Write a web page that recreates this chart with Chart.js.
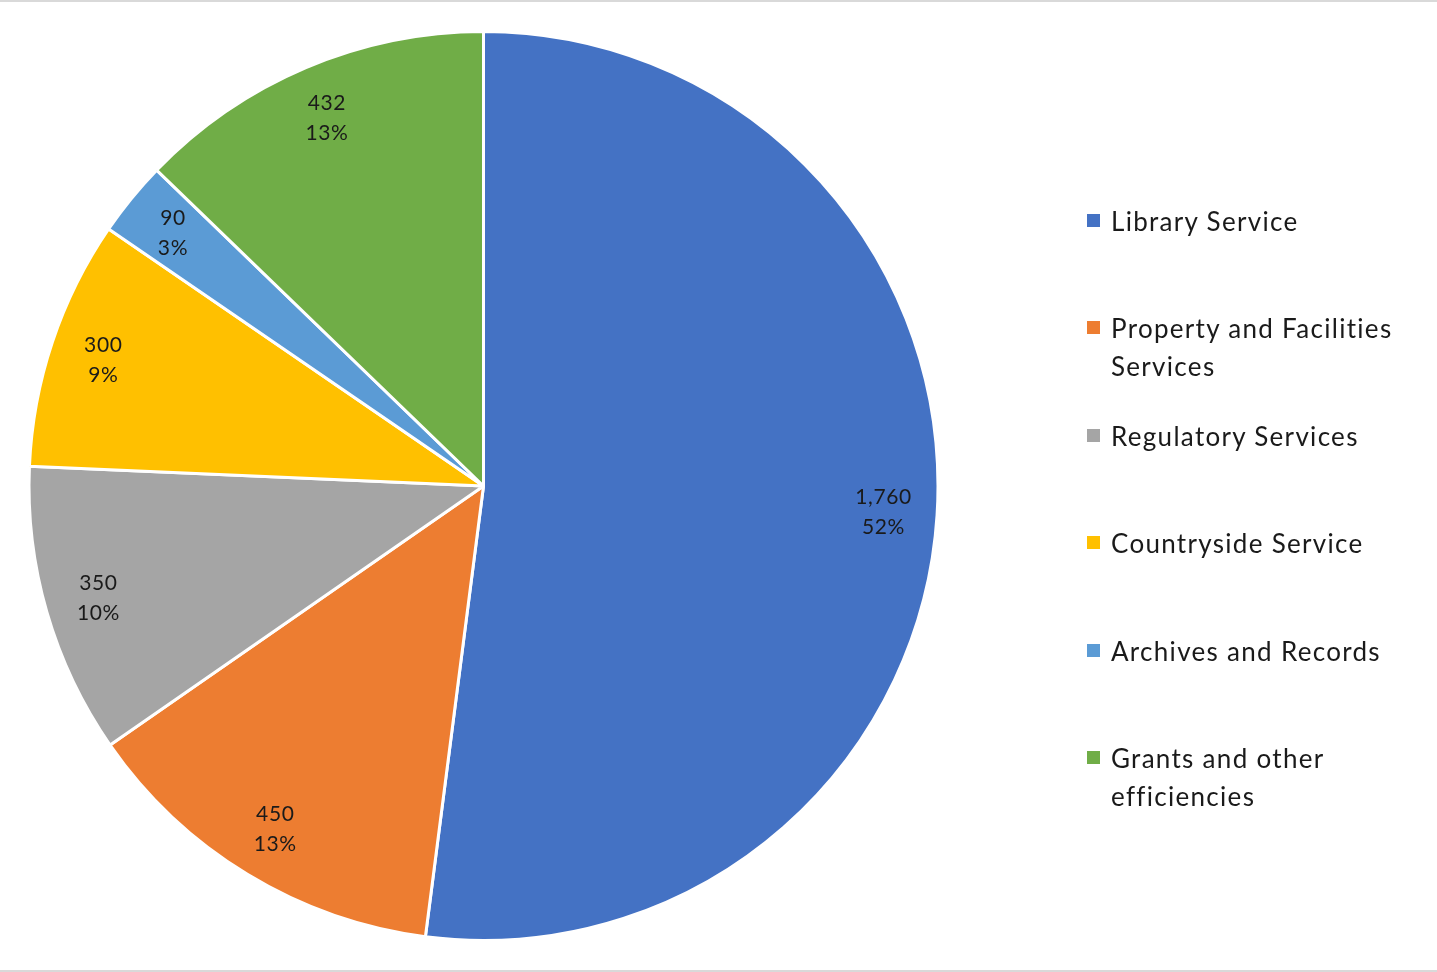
<!DOCTYPE html>
<html>
<head>
<meta charset="utf-8">
<script src="https://cdn.jsdelivr.net/npm/chart.js@4.4.0/dist/chart.umd.min.js"></script>
<style>
  html, body { margin: 0; padding: 0; background: #fff; }
  #wrap { position: relative; width: 1437px; height: 972px; overflow: hidden; }
  #wrap canvas { position: absolute; left: 0; top: 0; }
  .rule { position: absolute; left: 0; width: 1437px; height: 2px; background: #d9d9d9; }
  #legend { position: absolute; left: 1087px; top: 202px; width: 350px;
            font-family: Lato, 'Open Sans', sans-serif; font-size: 26px; letter-spacing: 1.3px; color: #1a1a1a; }
  .item { position: relative; height: 107.4px; padding-left: 24px; box-sizing: border-box; line-height: 38px; }
  .item span { position: absolute; left: 0; top: 12px; width: 13px; height: 13px; }
  .item div { width: 310px; }
</style>
</head>
<body>
<div id="wrap">
  <div class="rule" style="top:0"></div>
  <div class="rule" style="top:970px"></div>
  <canvas id="pie" width="1437" height="972"></canvas>
  <div id="legend"></div>
</div>
<script>
const categories = ['Library Service', 'Property and Facilities Services', 'Regulatory Services',
  'Countryside Service', 'Archives and Records', 'Grants and other efficiencies'];
const savings = [1760, 450, 350, 300, 90, 432];
const sliceColors = ['#4472C4', '#ED7D31', '#A5A5A5', '#FFC000', '#5B9BD5', '#70AD47'];

const total = savings.reduce((a, b) => a + b, 0);

// value + percent labels near the outer edge of each slice
const sliceLabels = {
  id: 'sliceLabels',
  afterDatasetsDraw(chart) {
    const ctx = chart.ctx;
    const meta = chart.getDatasetMeta(0);
    ctx.save();
    ctx.font = '21px Lato, "Open Sans", sans-serif';
    ctx.letterSpacing = '0.6px';
    ctx.fillStyle = '#1a1a1a';
    ctx.textAlign = 'center';
    ctx.textBaseline = 'middle';
    meta.data.forEach((arc, i) => {
      const p = arc.getProps(['x', 'y', 'startAngle', 'endAngle', 'outerRadius'], true);
      const mid = (p.startAngle + p.endAngle) / 2;
      const r = p.outerRadius * 0.882;
      const x = p.x + Math.cos(mid) * r;
      const y = p.y + Math.sin(mid) * r;
      const v = savings[i];
      ctx.fillText(v.toLocaleString('en-GB'), x, y - 14);
      ctx.fillText(Math.round(v / total * 100) + '%', x, y + 16);
    });
    ctx.restore();
  }
};

new Chart(document.getElementById('pie'), {
  type: 'pie',
  data: {
    labels: categories,
    datasets: [{
      data: savings,
      backgroundColor: sliceColors,
      borderColor: '#ffffff',
      borderWidth: 3
    }]
  },
  options: {
    responsive: false,
    animation: false,
    layout: { padding: { left: 27, right: 497, top: 30, bottom: 30 } },
    plugins: {
      legend: { display: false },
      tooltip: { enabled: false }
    }
  },
  plugins: [sliceLabels]
});

const legend = document.getElementById('legend');
categories.forEach((name, i) => {
  const item = document.createElement('div');
  item.className = 'item';
  item.innerHTML = '<span style="background:' + sliceColors[i] + '"></span><div>' + name + '</div>';
  legend.appendChild(item);
});
</script>
</body>
</html>
